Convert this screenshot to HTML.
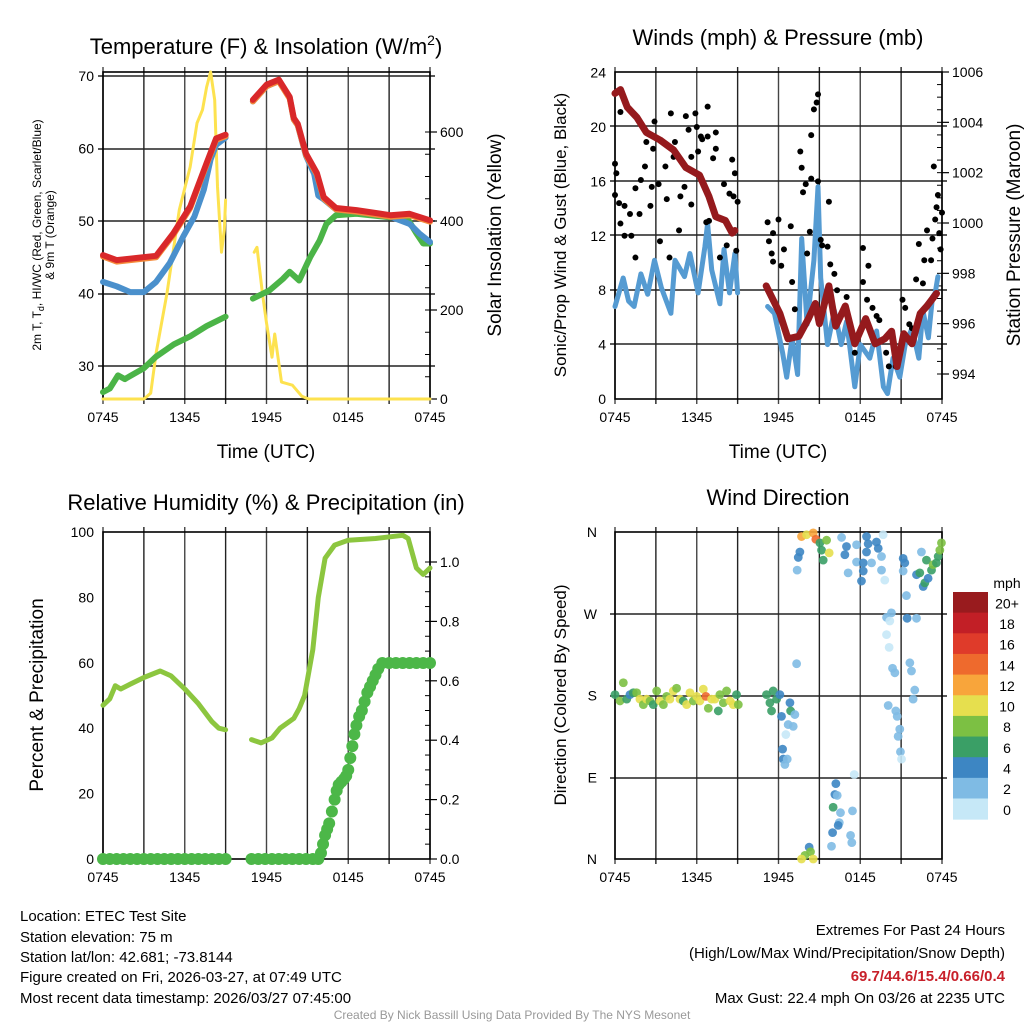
<!DOCTYPE html>
<html><head><meta charset="utf-8">
<style>
html,body{margin:0;padding:0;background:#fff;}
svg{display:block;font-family:"Liberation Sans",Arial,sans-serif;}
</style></head>
<body>
<svg id="chart" width="1024" height="1024" viewBox="0 0 1024 1024" xmlns="http://www.w3.org/2000/svg">
<rect width="1024" height="1024" fill="#fff"/>
<g id="layer"></g>
<text x="266" y="54" font-size="22" text-anchor="middle">Temperature (F) &amp; Insolation (W/m<tspan dy="-9" font-size="14">2</tspan><tspan dy="9">)</tspan></text>
<text x="778" y="45" font-size="22" text-anchor="middle">Winds (mph) &amp; Pressure (mb)</text>
<text x="266" y="510" font-size="22" text-anchor="middle">Relative Humidity (%) &amp; Precipitation (in)</text>
<text x="778" y="505" font-size="22" text-anchor="middle">Wind Direction</text>
<text x="266" y="458" font-size="19" text-anchor="middle">Time (UTC)</text>
<text x="778" y="458" font-size="19" text-anchor="middle">Time (UTC)</text>
<text transform="translate(41,235) rotate(-90)" font-size="12" text-anchor="middle">2m T, T<tspan dy="3" font-size="9">d</tspan><tspan dy="-3">, HI/WC (Red, Green, Scarlet/Blue)</tspan></text>
<text transform="translate(54,235) rotate(-90)" font-size="12" text-anchor="middle">&amp; 9m T (Orange)</text>
<text transform="translate(501,235) rotate(-90)" font-size="19" text-anchor="middle">Solar Insolation (Yellow)</text>
<text transform="translate(566,235) rotate(-90)" font-size="17" text-anchor="middle">Sonic/Prop Wind &amp; Gust (Blue, Black)</text>
<text transform="translate(1020,235) rotate(-90)" font-size="19" text-anchor="middle">Station Pressure (Maroon)</text>
<text transform="translate(43,695) rotate(-90)" font-size="19" text-anchor="middle">Percent &amp; Precipitation</text>
<text transform="translate(566,695) rotate(-90)" font-size="17" text-anchor="middle">Direction (Colored By Speed)</text>
<g font-size="15">
<text x="20" y="921">Location: ETEC Test Site</text>
<text x="20" y="942">Station elevation: 75 m</text>
<text x="20" y="962">Station lat/lon: 42.681; -73.8144</text>
<text x="20" y="982">Figure created on Fri, 2026-03-27, at 07:49 UTC</text>
<text x="20" y="1003">Most recent data timestamp: 2026/03/27 07:45:00</text>
</g>
<g font-size="15" text-anchor="end">
<text x="1005" y="935">Extremes For Past 24 Hours</text>
<text x="1005" y="958">(High/Low/Max Wind/Precipitation/Snow Depth)</text>
<text x="1005" y="981" fill="#c8202a" font-weight="bold">69.7/44.6/15.4/0.66/0.4</text>
<text x="1005" y="1003">Max Gust: 22.4 mph On 03/26 at 2235 UTC</text>
</g>
<text x="512" y="1019" font-size="12" fill="#999" text-anchor="middle">Created By Nick Bassill Using Data Provided By The NYS Mesonet</text>
</svg>
<script>
const timeTicks=["0745","1345","1945","0145","0745"];
const tempTicks=[30,40,50,60,70];
const solarTicks=[0,200,400,600];
const windTicks=[0,4,8,12,16,20,24];
const presTicks=[994,996,998,1000,1002,1004,1006];
const rhTicks=[0,20,40,60,80,100];
const precipTicks=[0.0,0.2,0.4,0.6,0.8,1.0];
const dirTicks=["N","E","S","W","N"];
const speedBins=["0","2","4","6","8","10","12","14","16","18","20+"];

const redHours=[0,1,3.9,5.16,6.4,7.6,8.3,9.0,9.5,11.0,12.0,12.9,13.7,14.0,14.3,14.9,15.7,16.2,17.1,18.6,21.1,22.5,24];
const redVals=[45.3,44.6,45.2,48.3,52,58,61.4,61.9,null,66.7,68.8,69.5,67.1,64.2,63.4,59.3,56.6,53.3,51.8,51.5,50.8,51.0,50.1];
const blueHours=[0,1,2,3,3.9,4.9,5.9,6.7,7.4,7.9,8.3,9.0,9.5,11,12,12.9,13.7,14,14.3,14.9,15.5,15.8,16.2,17.1,18.6,21.1,22.5,23.2,24];
const blueVals=[41.6,41,40.2,40.2,41.6,44.2,47.9,50.6,54.3,58.5,60.5,61.5,null,66.5,68.6,69.3,67,64,63.2,59,56.5,53.5,53,51.6,51.3,50.6,49.6,48.3,47.1];
const greenHours=[0,0.5,1.1,1.6,3,3.9,5.2,6.4,7.6,9.0,9.5,11.0,12.2,13.2,13.7,14.4,15.2,15.9,16.4,17.1,18.6,21.1,22.3,23.0,23.5,24];
const greenVals=[26.4,26.9,28.7,28.2,29.7,31.3,33,34.1,35.5,36.8,null,39.3,40.4,42,43,41.8,45,47.3,49.6,50.8,51,50.5,50.5,48.3,46.9,46.9];
const solarHours=[0,3,3.5,3.9,4.7,5.6,6.4,6.9,7.3,7.6,7.9,8.2,8.4,8.7,8.9,9.0,9.5,11.1,11.3,11.7,12.0,12.4,12.6,13.1,13.9,14.6,15.1,24];
const solarVals=[0,0,13,103,238,425,522,620,650,701,735,672,477,330,380,447,null,330,341,238,171,94,146,38,31,6,0,0];

const windHours=[0,0.6,1.0,1.4,1.9,2.4,2.9,3.4,4.1,4.4,5.1,5.5,6.1,6.6,6.8,7.1,7.7,8.0,8.4,8.8,9.0,9.5,11.2,11.7,12.3,12.6,13.0,13.4,13.7,14.1,14.6,14.9,15.1,15.6,16.1,16.6,17.0,17.6,18.0,18.7,19.2,19.7,20.0,20.4,20.9,21.3,21.8,22.3,22.6,23.0,23.3,23.5,23.7];
const windVals=[6.8,8.9,7.2,6.8,9.2,7.7,10.2,8.2,6.3,10.2,9.0,10.7,7.8,11.2,12.9,9.5,7.0,11,7.8,10.7,7.8,null,6.8,6.3,3.4,1.6,4.5,1.8,11.8,5.5,10.2,15.6,8.9,4.0,6.5,4.0,5.7,0.9,4.0,3.0,5.0,0.9,0.4,3.0,1.6,4.0,5.2,3.0,6.5,4.5,7.5,7.8,9.0];
const presHours=[0,0.4,0.9,1.6,2.3,3.3,4.3,5.2,6.2,6.9,7.4,8.1,8.6,8.8,9.5,11.1,12.1,12.7,13.5,14.2,14.7,15.0,15.7,16.2,16.9,17.6,18.4,19.1,19.8,20.3,20.7,21.2,21.8,22.4,22.9,23.6];
const presVals=[1005.15,1005.3,1004.6,1004.2,1003.6,1003.3,1002.9,1002.2,1001.9,1001.05,1000.25,1000.1,999.6,999.7,null,997.5,996.4,995.4,995.5,996.2,996.8,996.0,997.5,995.9,996.7,995.2,996.2,995.2,995.4,995.7,994.3,995.6,995.2,996.4,996.7,997.2];
const gustHours=[0,0.1,0,0.4,0.3,0.4,0.7,0.7,1.1,1.2,1.5,1.5,1.8,1.9,2.2,2.3,2.6,2.7,2.8,2.9,3.2,3.3,3.7,3.8,4.0,4.1,4.3,4.4,4.7,4.8,5.1,5.2,5.4,5.6,5.6,5.9,6.0,6.1,6.3,6.4,6.8,6.8,6.7,6.9,7.2,7.4,7.4,7.7,8.0,8.2,8.4,8.6,8.7,8.8,8.9,9.0,
11.2,11.3,11.5,11.6,11.6,12.0,12.2,12.4,12.9,13.0,13.2,13.6,13.7,13.8,14.0,14.1,14.3,14.4,14.4,14.6,14.8,14.9,14.9,15.1,15.2,15.6,15.7,15.8,16.1,16.3,17.0,17.6,18.2,18.2,18.5,18.6,18.9,19.2,19.4,19.9,20.1,20.6,21.1,21.3,21.6,21.8,22.1,22.3,22.6,22.7,22.9,23.2,23.3,23.5,23.4,23.6,23.7,23.8,24.0,23.9];
const gustVals=[17.3,16.6,15.0,21.1,14.4,12.9,14.2,12.0,13.6,12.0,10.4,15.5,13.6,16.1,17.1,18.9,14.2,15.6,18.4,20.4,15.8,11.6,17.1,14.7,10.4,21.0,17.8,18.9,12.4,14.9,15.6,20.8,19.8,14.3,17.8,21.0,20.0,18.2,19.3,19.1,21.5,19.3,13.0,13.1,17.7,18.4,19.6,10.4,15.8,11.3,15.1,17.6,14.9,16.6,10.9,14.5,
13.0,11.6,10.7,12.2,10.1,13.2,9.8,11.0,12.7,8.6,6.6,18.2,17.0,15.2,15.8,10.7,12.3,16.2,19.4,21.3,21.8,22.4,16.0,11.7,11.3,11.2,14.5,9.9,9.2,8.0,7.5,3.4,11.1,8.6,7.3,9.8,6.7,6.1,5.8,3.4,2.4,2.4,7.3,6.7,5.5,5.2,8.8,11.4,8.5,10.2,12.4,10.2,11.8,13.2,17.1,14.1,15.0,12.2,13.7,11.0];

const rhHours=[0,0.5,0.9,1.3,2,3,4.2,5,6,7,8,8.5,9.0,9.5,10.9,11.6,12.4,13.0,14,14.4,14.8,15.4,15.8,16.3,17,18,20,22,22.4,23,23.5,24];
const rhVals=[47,49,53,52,53.5,55.5,57.5,56,52,47.5,42,40,39.5,null,36.5,35.5,37,40,43,46,50,64,80,92,96,97.5,98,99,98,89,87,89];
const precipHours=[0,0.5,1,1.5,2,2.5,3,3.5,4,4.5,5,5.5,6,6.5,7,7.5,8,8.5,9.0,10.9,11.4,11.9,12.4,12.9,13.4,13.9,14.4,14.9,15.4,15.8,16.0,16.15,16.3,16.45,16.6,16.8,17,17.15,17.3,17.5,17.7,17.85,18,18.15,18.3,18.45,18.6,18.8,19,19.2,19.4,19.6,19.8,20,20.2,20.5,21,21.5,22,22.5,23,23.5,24];
const precipVals=[0,0,0,0,0,0,0,0,0,0,0,0,0,0,0,0,0,0,0,0,0,0,0,0,0,0,0,0,0,0,0.02,0.05,0.08,0.1,0.12,0.16,0.2,0.23,0.25,0.26,0.27,0.28,0.3,0.34,0.38,0.42,0.45,0.48,0.5,0.53,0.56,0.58,0.6,0.62,0.64,0.66,0.66,0.66,0.66,0.66,0.66,0.66,0.66];

const dirHours=[0.0,0.37,0.61,0.86,1.10,1.34,1.59,1.83,2.08,2.32,2.57,2.81,3.06,3.30,3.55,3.79,4.03,4.28,4.52,4.77,5.01,5.26,5.50,5.75,5.99,6.23,6.48,6.67,6.85,7.09,7.33,7.58,7.70,7.95,8.19,8.44,8.68,8.92,9.05,
11.12,11.37,11.61,11.49,11.86,12.10,12.22,12.84,12.89,13.20,12.71,13.08,12.54,12.30,12.35,12.47,12.64,13.33,
13.69,14.06,14.55,14.74,15.04,15.53,15.16,15.72,15.28,13.57,13.45,13.37,16.63,16.99,16.87,17.11,17.73,17.73,18.22,18.22,18.09,18.46,18.58,18.46,18.83,19.19,19.32,19.68,19.56,19.56,19.80,21.15,21.27,21.15,22.49,21.39,22.13,22.37,22.62,22.74,22.98,22.86,23.23,23.35,23.59,23.72,23.84,23.96,
20.29,19.93,20.17,19.93,20.12,21.44,22.13,20.37,20.54,21.64,21.76,22.00,21.88,20.05,20.61,20.71,20.90,20.78,20.95,21.03,17.56,
16.21,16.14,16.31,16.01,16.55,16.46,16.38,15.97,15.89,17.43,17.29,17.38,14.25,14.35,13.94,13.69,14.55];
const dirVals=[181,174,194,176,181,183,183,176,170,176,174,170,185,174,170,179,176,185,188,176,174,170,183,174,179,174,187,179,166,176,176,163,181,172,185,174,170,181,170,
181,172,185,163,176,181,157,172,163,159,148,146,137,121,110,104,110,215,
355,357,359,352,348,351,340,337,329,338,332,318,354,344,335,315,346,327,326,317,306,355,347,338,326,349,342,357,333,318,307,331,326,317,338,290,313,315,300,304,309,329,318,324,326,333,340,348,
271,266,262,247,233,265,265,210,205,216,207,186,176,169,163,157,143,135,118,110,93,
83,71,70,57,51,40,37,29,14,53,26,18,13,8,4,0,0];
const dirSpeeds=[6,8,8,6,4,6,8,10,8,10,8,6,8,10,8,8,10,10,8,10,6,10,10,8,10,10,10,14,8,10,10,6,8,8,8,10,10,6,8,
6,6,6,6,6,4,4,4,6,2,2,2,0,4,4,2,2,2,
12,10,12,14,6,8,6,10,6,4,4,2,2,4,4,2,2,2,4,4,4,4,4,4,2,4,4,0,2,2,0,4,4,2,2,2,4,6,4,6,4,6,6,8,6,6,8,8,
2,2,0,0,0,4,2,2,2,2,2,2,2,2,2,2,2,2,2,0,0,
4,4,2,6,2,2,4,4,2,2,2,2,4,8,8,10,10];

const NS="http://www.w3.org/2000/svg";
const layer=document.getElementById('layer');
const binColors=["#c6e8f7","#7fbbe4","#3d86c3","#3a9f66","#7cc043","#e6df4e","#f8a53b","#ee6a2d","#df3b2a","#c21f26","#991b1e"];
function mk(tag,attrs,parent){const e=document.createElementNS(NS,tag);for(const k in attrs)e.setAttribute(k,attrs[k]);(parent||layer).appendChild(e);return e;}

const P1={L:103,R:430,T:72,B:399}, P2={L:615,R:942,T:72,B:399}, P3={L:103,R:430,T:532,B:859}, P4={L:615,R:942,T:532,B:859};
function xT(P,h){return P.L+h/24*(P.R-P.L);}
function yLin(v,v0,y0,v1,y1){return y0+(v-v0)*(y1-y0)/(v1-v0);}

const yTemp=v=>yLin(v,70,76,30,366);
const ySolar=v=>yLin(v,0,399,600,132);
const yWind=v=>yLin(v,0,399,24,72.6);
const yPres=v=>yLin(v,994,374,1006,72);
const yRH=v=>yLin(v,0,859,100,532);
const yPrecip=v=>yLin(v,0,859,1,562);
const yDir=v=>yLin(v,0,859,360,532);

function frame(P,name,hLines){
  const g=mk('g',{});
  
  
  for(let i=0;i<=8;i++){const x=P.L+i*(P.R-P.L)/8;mk('line',{x1:x,x2:x,y1:P.T-5,y2:P.B+5,stroke:(i%2?'#222':'#444'),'stroke-width':1.4},g);}
  hLines.forEach(y=>mk('line',{x1:P.L-5,x2:P.R+5,y1:y,y2:y,stroke:'#222','stroke-width':1.4},g));
  mk('rect',{x:P.L,y:P.T,width:P.R-P.L,height:P.B-P.T,fill:'none',stroke:'#000','stroke-width':1.6},g);
  timeTicks.forEach((t,i)=>{const x=P.L+i*(P.R-P.L)/4;const tx=mk('text',{x:x,y:P.B+23,'font-size':14,'text-anchor':'middle'},g);tx.textContent=t;});
  return g;
}
function leftTicks(P,vals,yf,name,fmt){
  vals.forEach(v=>{const t=mk('text',{x:P.L-9,y:yf(v)+5,'font-size':14,'text-anchor':'end'});
    
    
    t.textContent=fmt?fmt(v):v;});
}
function rightTicks(P,vals,yf,name,fmt,minor){
  vals.forEach(v=>{const y=yf(v);mk('line',{x1:P.R,x2:P.R+7,y1:y,y2:y,stroke:'#000','stroke-width':1.2});
    const t=mk('text',{x:P.R+10,y:y+5,'font-size':14});
    
    
    t.textContent=fmt?fmt(v):v;});
  if(minor){const lo=vals[0],hi=vals[vals.length-1];for(let v=lo;v<=hi+1e-9;v+=minor){const y=yf(v);if(y<P.T||y>P.B)continue;mk('line',{x1:P.R-5,x2:P.R,y1:y,y2:y,stroke:'#000','stroke-width':1});}}
}
function line(P,hours,vals,yf,color,width,name){
  let d='',pen=false;
  for(let i=0;i<hours.length;i++){if(vals[i]==null){pen=false;continue;}d+=(pen?'L':'M')+xT(P,hours[i]).toFixed(1)+' '+yf(vals[i]).toFixed(1)+' ';pen=true;}
  const p=mk('path',{d:d,fill:'none',stroke:color,'stroke-width':width,'stroke-linejoin':'round','stroke-linecap':'round'});
  
  
  return p;
}
function dots(P,hours,vals,yf,colorFn,r,name){
  const g=mk('g',{});
  
  
  for(let i=0;i<hours.length;i++){if(vals[i]==null)continue;mk('circle',{cx:xT(P,hours[i]),cy:yf(vals[i]),r:r,fill:colorFn(i)},g);}
  return g;
}

frame(P1,'temperature',[76,149,221,294,366]);
leftTicks(P1,tempTicks,yTemp,'temp');
rightTicks(P1,solarTicks,ySolar,'solar',null,50);
line(P1,solarHours,solarVals,ySolar,'#fde24f',3,'solar-line');
line(P1,greenHours,greenVals,yTemp,'#4bb447',6,'dewpoint-line');
line(P1,blueHours,blueVals,yTemp,'#4a90cc',6,'windchill-line');
line(P1,redHours,redVals.map(v=>v==null?null:v-0.2),yTemp,'#f58a3a',6,'temp-9m-line');
line(P1,redHours,redVals,yTemp,'#d9282a',6,'temp-2m-line');

frame(P2,'winds',[126,181,235,290,344]);
leftTicks(P2,windTicks,yWind,'wind');
rightTicks(P2,presTicks,yPres,'pressure',null,0.5);
line(P2,windHours,windVals,yWind,'#559bd2',5,'wind-speed-line');
dots(P2,gustHours,gustVals,yWind,()=>'#000',3,'gust-points');
line(P2,presHours,presVals,yPres,'#951a1d',7,'pressure-line');

frame(P3,'humidity',[]);
leftTicks(P3,rhTicks,yRH,'rh');
rightTicks(P3,precipTicks,yPrecip,'precip',v=>v.toFixed(1),0.05);
line(P3,rhHours,rhVals,yRH,'#8cc63f',5,'rh-line');
dots(P3,precipHours,precipVals,yPrecip,()=>'#4cb748',6,'precip-points');

frame(P4,'direction',[614,696,778]);
dirTicks.forEach((t,i)=>{const tx=mk('text',{x:P4.L-18,y:yDir(i*90)+5,'font-size':14,'text-anchor':'end'});
  
  
  tx.textContent=t;});
dots(P4,dirHours,dirVals,yDir,i=>binColors[Math.min(10,Math.floor(dirSpeeds[i]/2))],4.4,'direction-points').setAttribute('fill-opacity','0.9');

const cb=mk('g',{});


const cbT=592,cbH=20.65;
speedBins.slice().reverse().forEach((lab,j)=>{
  const idx=10-j;
  mk('rect',{x:953,y:cbT+j*cbH,width:35,height:cbH+0.5,fill:binColors[idx]},cb);
  const t=mk('text',{x:1007,y:cbT+j*cbH+cbH/2+6,'font-size':14,'text-anchor':'middle'},cb);t.textContent=lab;
});
const mph=mk('text',{x:1007,y:588,'font-size':14,'text-anchor':'middle'},cb);mph.textContent='mph';
</script>
</body></html>
